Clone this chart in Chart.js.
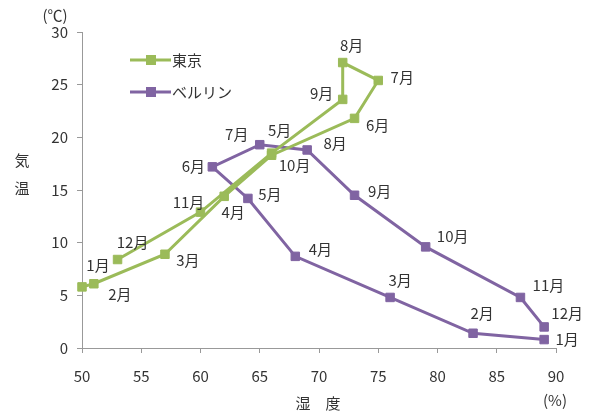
<!DOCTYPE html>
<html>
<head>
<meta charset="utf-8">
<script src="https://cdn.jsdelivr.net/npm/chart.js@4"></script>
<style>
  html, body { margin: 0; padding: 0; background: #fff; }
  #wrap { width: 602px; height: 414px; }
</style>
</head>
<body>
<div id="wrap"><canvas id="myChart" width="602" height="414"></canvas></div>
<script>
const months = ['1月', '2月', '3月', '4月', '5月', '6月', '7月', '8月', '9月', '10月', '11月', '12月'];
const tokyoHumidity = [50, 51, 57, 62, 66, 73, 75, 72, 72, 66, 60, 53];
const tokyoTemp = [5.8, 6.1, 8.9, 14.4, 18.3, 21.8, 25.4, 27.1, 23.6, 18.5, 12.9, 8.4];
const berlinHumidity = [89, 83, 76, 68, 64, 61, 65, 69, 73, 79, 87, 89];
const berlinTemp = [0.8, 1.4, 4.8, 8.7, 14.2, 17.2, 19.3, 18.8, 14.5, 9.6, 4.8, 2.0];
const seriesNames = ['東京', 'ベルリン'];

const green = '#9bbb59';
const purple = '#8064a2';
const textColor = '#333';
const font = '"Noto Sans CJK JP", "Noto Sans", sans-serif';

// where each month label sits relative to its point
const labelOffsets = [
    [[16, -22], [26, 11], [23, 6], [9, 16], [8, -25], [23, 7], [24, -3], [9, -17], [-21, -6], [23, 12], [-12, -10], [15, -17]],
    [[23, 0], [9, -20], [10, -17], [25, -7], [22, -4], [-19, -1], [-23, -10], [28, -7], [25, -4], [27, -11], [28, -12], [23, -14]]
];

const toPoints = (xs, ys) => xs.map((x, i) => ({ x: x, y: ys[i] }));

const extraText = {
    id: 'extraText',
    afterDatasetsDraw(chart) {
        const ctx = chart.ctx;
        ctx.save();
        ctx.fillStyle = textColor;
        ctx.font = '15px ' + font;
        ctx.textAlign = 'center';
        ctx.textBaseline = 'middle';

        // month labels
        chart.data.datasets.forEach((ds, d) => {
            const meta = chart.getDatasetMeta(d);
            meta.data.forEach((pt, i) => {
                const off = labelOffsets[d][i];
                ctx.fillText(months[i], pt.x + off[0], pt.y + off[1]);
            });
        });

        // axis titles
        ctx.fillText('(℃)', 55, 15);
        ctx.fillText('気', 22, 160);
        ctx.fillText('温', 22, 188);
        ctx.fillText('湿　度', 318, 403);
        ctx.fillText('(%)', 555, 400);

        // legend
        chart.data.datasets.forEach((ds, d) => {
            const y = 60 + d * 32;
            ctx.strokeStyle = ds.borderColor;
            ctx.lineWidth = 3;
            ctx.beginPath();
            ctx.moveTo(130, y);
            ctx.lineTo(171, y);
            ctx.stroke();
            ctx.fillStyle = ds.borderColor;
            ctx.fillRect(146, y - 5, 10, 10);
            ctx.fillStyle = textColor;
            ctx.textAlign = 'left';
            ctx.fillText(ds.label, 172, y);
        });
        ctx.restore();
    }
};

const ctx = document.getElementById('myChart').getContext('2d');
const myChart = new Chart(ctx, {
    type: 'scatter',
    data: {
        datasets: [
            {
                label: seriesNames[0],
                data: toPoints(tokyoHumidity, tokyoTemp),
                showLine: true,
                clip: false,
                borderColor: green,
                backgroundColor: green,
                borderWidth: 3,
                pointStyle: 'rect',
                pointRadius: 6,
                pointBorderWidth: 1,
            },
            {
                label: seriesNames[1],
                data: toPoints(berlinHumidity, berlinTemp),
                showLine: true,
                clip: false,
                borderColor: purple,
                backgroundColor: purple,
                borderWidth: 3,
                pointStyle: 'rect',
                pointRadius: 6,
                pointBorderWidth: 1,
            }
        ]
    },
    options: {
        responsive: false,
        animation: false,
        layout: { padding: { top: 32, right: 46, left: 0, bottom: 0 } },
        plugins: {
            legend: { display: false },
            tooltip: { enabled: false },
        },
        scales: {
            x: {
                type: 'linear',
                min: 50,
                max: 90,
                afterFit(scale) { scale.height = 66; },
                ticks: { stepSize: 5, color: textColor, padding: 14, font: { size: 15, family: font } },
                grid: { drawOnChartArea: false, drawTicks: true, tickLength: 5, color: '#999' },
                border: { color: '#999', width: 1 },
            },
            y: {
                min: 0,
                max: 30,
                afterFit(scale) { scale.width = 82; },
                ticks: { stepSize: 5, color: textColor, padding: 9, font: { size: 15, family: font } },
                grid: { drawOnChartArea: false, drawTicks: true, tickLength: 5, color: '#999' },
                border: { color: '#999', width: 1 },
            }
        }
    },
    plugins: [extraText],
});
</script>
</body>
</html>
